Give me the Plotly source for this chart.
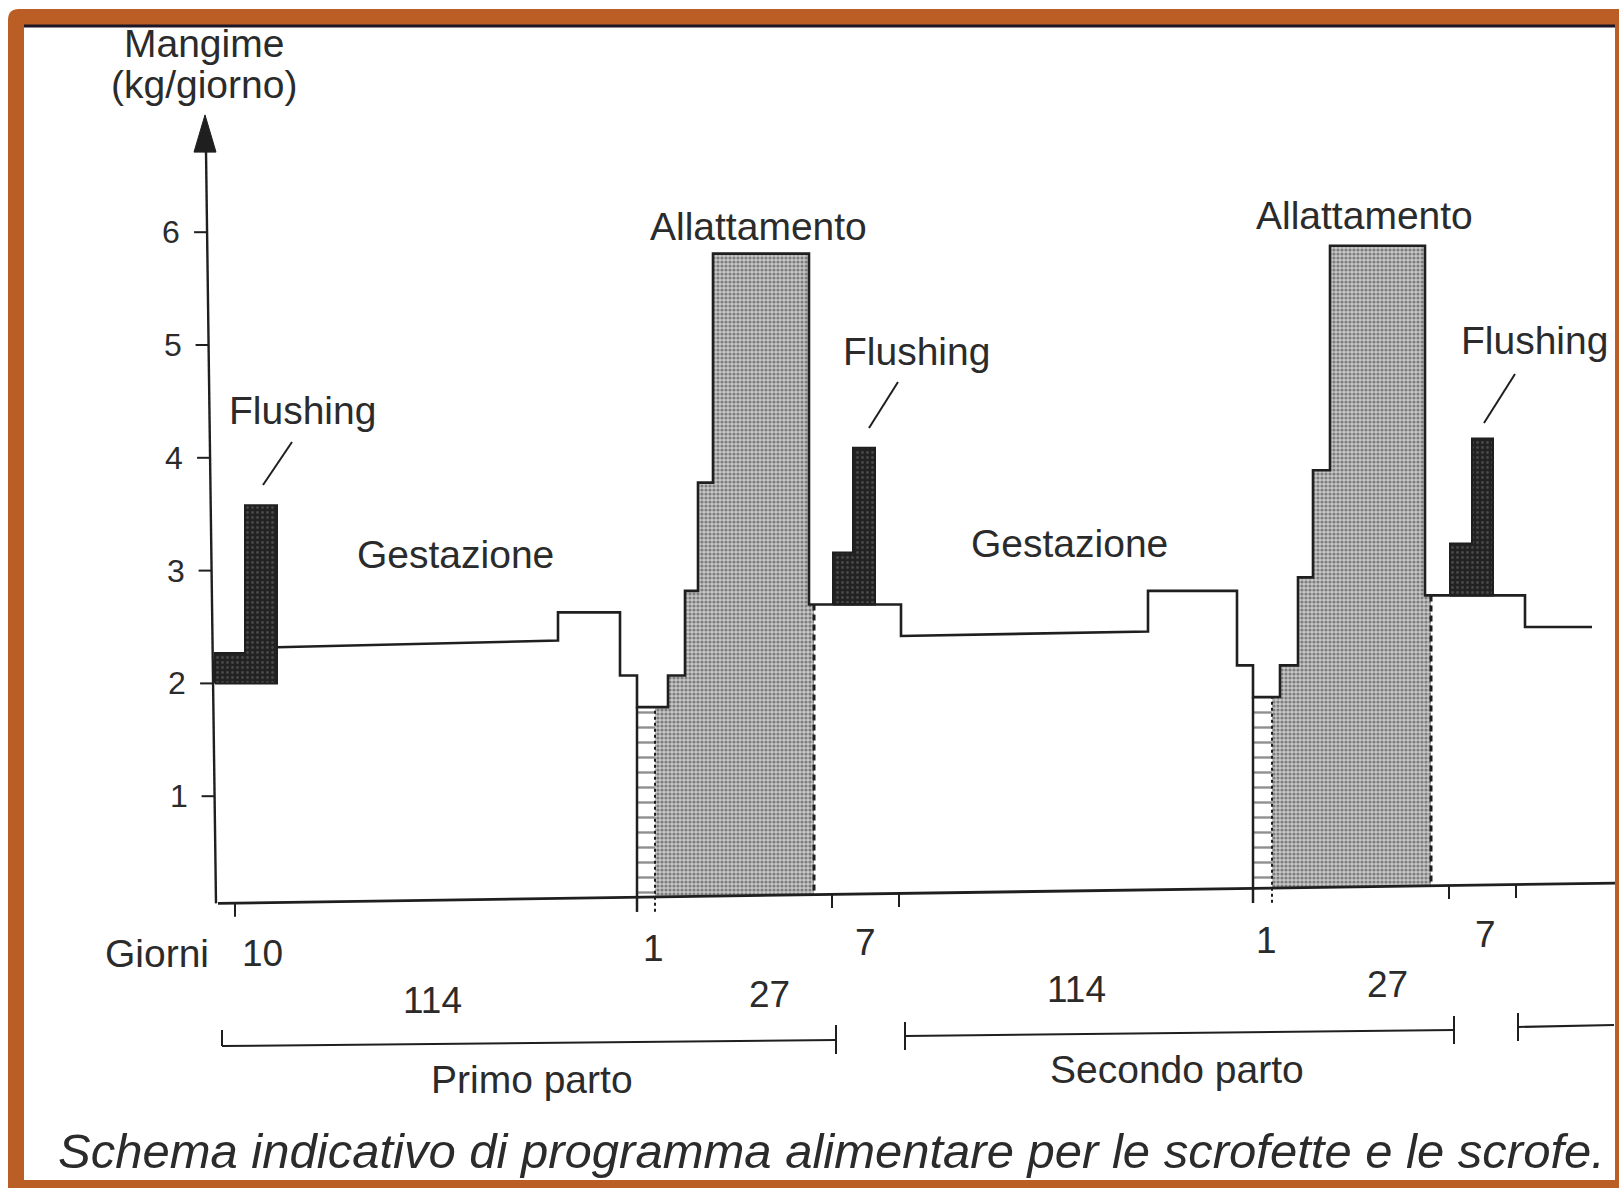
import numpy as np
import plotly.graph_objects as go

W, H = 1619, 1188
KG_PX = 112.8      # page pixels per kg/giorno
ZERO_PX = 909      # page y of 0 kg/giorno

# ---------------- data (schematic time position, feed kg/giorno) ----------------
y_ticks = [1, 2, 3, 4, 5, 6]

# cycle 1: gestation (slightly rising plateau), pre-farrowing steps, lactation steps
gest1_x = [277, 558]
gest1_y = [2.32, 2.38]
lact1_x = [558, 620, 637, 668, 685, 698, 713, 809]
lact1_y = [2.63, 2.07, 1.79, 2.07, 2.82, 3.78, 5.81]
wean1_x = [809, 901]
wean1_y = [2.70]

# cycle 2
gest2_x = [901, 1148]
gest2_y = [2.42, 2.46]
lact2_x = [1148, 1237, 1253, 1280, 1298, 1313, 1330, 1425]
lact2_y = [2.82, 2.16, 1.88, 2.16, 2.94, 3.89, 5.88]
wean2_x = [1425, 1525, 1592]
wean2_y = [2.78, 2.50]

# farrowing day (ladder) and lactation end (dashed edge)
ladder_x = [[637, 655], [1253, 1272]]
lact_end_x = [814, 1431]
lact_steps = [(lact1_x, lact1_y, wean1_y[0]), (lact2_x, lact2_y, wean2_y[0])]

# flushing blocks: x edges (start, step, end), levels
flush_x = [[215, 245, 277], [833, 853, 875], [1450, 1472, 1493]]
flush_base = [2.00, 2.70, 2.78]
flush_low = [2.27, 3.16, 3.24]
flush_high = [3.58, 4.09, 4.17]

# day ticks on the time axis
day_tick_x = [235, 832, 899, 1449, 1516]
day_labels = ["10", "1", "7", "1", "7"]
period_labels = ["114", "27", "114", "27"]
parto_labels = ["Primo parto", "Secondo parto"]

# drawn (slightly tilted) time axis and y axis
base_x = [218, 1616]
base_y = [0.05, 0.23]
yaxis_v = [0.05, 6.72]
yaxis_xpos = [216, 206]

INK = "#1f1f1f"
TXT = "#2b2b2b"
ORANGE = "#BA5E26"
FONT = "Liberation Sans, Arial, Helvetica, sans-serif"


def base_at(x):
    return float(np.interp(x, base_x, base_y))


def axis_at(v):
    return float(np.interp(v, yaxis_v, yaxis_xpos))


def steps(xs, ys):
    px, py = [], []
    for i, v in enumerate(ys):
        px += [xs[i], xs[i + 1]]
        py += [v, v]
    return px, py


fig = go.Figure()

# ---------- lactation stipple areas ----------
for (sx, sy, wl), (lx0, lx1), right in zip(lact_steps, ladder_x, lact_end_x):
    i = int(np.searchsorted(sx, lx1, side="right")) - 1
    px = [lx1, lx1]
    py = [base_at(lx1), sy[i]]
    for j in range(i, len(sy)):
        if j > i:
            px.append(sx[j]); py.append(sy[j])
        px.append(sx[j + 1]); py.append(sy[j])
    px += [sx[-1], right, right, lx1]
    py += [wl, wl, base_at(right), base_at(lx1)]
    fig.add_trace(go.Scatter(
        x=px, y=py, mode="lines", fill="toself", line=dict(width=0),
        fillcolor="#bcbcbc",
        fillpattern=dict(shape=".", bgcolor="#c6c6c6", fgcolor="#333333",
                         size=4, solidity=0.5),
        hoverinfo="skip"))
    # ladder (farrowing day)
    lv = sy[int(np.searchsorted(sx, lx0, side="right")) - 1]
    fig.add_trace(go.Scatter(
        x=[lx0, lx0, lx1, lx1, lx0], y=[base_at(lx0), lv, lv, base_at(lx1), base_at(lx0)],
        mode="lines", fill="toself", line=dict(width=0), fillcolor="white",
        fillpattern=dict(shape="-", bgcolor="white", fgcolor=INK, size=15, solidity=0.16),
        hoverinfo="skip"))
    fig.add_trace(go.Scatter(x=[lx0, lx0], y=[base_at(lx0) - 0.13, lv], mode="lines",
                             line=dict(color=INK, width=2.5), hoverinfo="skip"))
    fig.add_trace(go.Scatter(x=[lx1, lx1], y=[base_at(lx1) - 0.13, lv], mode="lines",
                             line=dict(color=INK, width=2, dash="dot"), hoverinfo="skip"))
    # dashed end of lactation
    fig.add_trace(go.Scatter(x=[right, right], y=[wl, base_at(right)], mode="lines",
                             line=dict(color=INK, width=3, dash="6px,4px"), hoverinfo="skip"))

# ---------- flushing blocks ----------
for (x0, x1, x2), b, lo, hi in zip(flush_x, flush_base, flush_low, flush_high):
    fig.add_trace(go.Scatter(
        x=[x0, x0, x1, x1, x2, x2, x0], y=[b, lo, lo, hi, hi, b, b],
        mode="lines", fill="toself", line=dict(color=INK, width=2),
        fillcolor="#2a2a2a",
        fillpattern=dict(shape=".", bgcolor="#222222", fgcolor="#6e6e6e", size=5, solidity=0.25),
        hoverinfo="skip"))

# ---------- feeding profile outline ----------
ox, oy = list(gest1_x), list(gest1_y)
for xs, ys in [(lact1_x, lact1_y), (wean1_x, wean1_y)]:
    a, b = steps(xs, ys); ox += a; oy += b
ox += gest2_x; oy += gest2_y
for xs, ys in [(lact2_x, lact2_y), (wean2_x, wean2_y)]:
    a, b = steps(xs, ys); ox += a; oy += b
fig.add_trace(go.Scatter(x=ox, y=oy, mode="lines", line=dict(color=INK, width=2.6),
                         hoverinfo="skip"))

# ---------- axes ----------
fig.add_trace(go.Scatter(x=base_x, y=base_y, mode="lines", line=dict(color=INK, width=2.8),
                         hoverinfo="skip"))
fig.add_trace(go.Scatter(x=yaxis_xpos, y=yaxis_v, mode="lines", line=dict(color=INK, width=2.4),
                         hoverinfo="skip"))
ax_top = axis_at(yaxis_v[1])
fig.add_trace(go.Scatter(x=[ax_top - 1, ax_top - 12, ax_top + 10, ax_top - 1],
                         y=[7.04, 6.71, 6.71, 7.04], mode="lines", fill="toself",
                         fillcolor=INK, line=dict(color=INK, width=1), hoverinfo="skip"))
tx, ty = [], []
for v in y_ticks:
    tx += [axis_at(v) - 13, axis_at(v), None]
    ty += [v, v, None]
fig.add_trace(go.Scatter(x=tx, y=ty, mode="lines", line=dict(color=INK, width=2), hoverinfo="skip"))
dx, dy = [], []
for x in day_tick_x:
    dx += [x, x, None]
    dy += [base_at(x), base_at(x) - 0.12, None]
fig.add_trace(go.Scatter(x=dx, y=dy, mode="lines", line=dict(color=INK, width=2), hoverinfo="skip"))

# ---------- page-space decorations (yaxis2 = page pixels) ----------
leaders = [[(292, 442), (263, 485)], [(898, 382), (869, 428)], [(1515, 374), (1484, 423)]]
for (a, b) in leaders:
    fig.add_trace(go.Scatter(x=[a[0], b[0]], y=[a[1], b[1]], yaxis="y2", mode="lines",
                             line=dict(color=INK, width=2), hoverinfo="skip"))
brackets = [((222, 1046), (836, 1040)), ((905, 1036), (1454, 1030)), ((1518, 1027), (1614, 1025))]
bx, by = [], []
for (p, q) in brackets:
    bx += [p[0], q[0], None]
    by += [p[1], q[1], None]
# bracket end ticks
for x, yc, up, dn in [(222, 1046, 16, 0), (836, 1040, 15, 14), (905, 1036, 14, 14),
                      (1454, 1030, 14, 14), (1518, 1027, 14, 14)]:
    bx += [x, x, None]
    by += [yc - up, yc + dn, None]
fig.add_trace(go.Scatter(x=bx, y=by, yaxis="y2", mode="lines", line=dict(color=INK, width=2),
                         hoverinfo="skip"))

ann = []


def label(text, x, y, size=39, yref="y2", **kw):
    ann.append(dict(text=text, x=x, y=y, xref="x", yref=yref, showarrow=False,
                    font=dict(family=FONT, size=size, color=TXT), **kw))


label("Mangime", 204, 43)
label("(kg/giorno)", 204, 84)
for v in y_ticks:
    label(str(v), axis_at(v) - 36, v, size=32, yref="y")
label("Flushing", 302, 410)
label("Flushing", 916, 351)
label("Flushing", 1534, 340)
label("Gestazione", 455, 554)
label("Gestazione", 1069, 543)
label("Allattamento", 758, 226)
label("Allattamento", 1364, 215)
label("Giorni", 157, 953)
for t, (x, y) in zip(day_labels, [(262, 953), (653, 948), (865, 942), (1266, 940), (1485, 934)]):
    label(t, x, y, size=37)
for t, (x, y) in zip(period_labels, [(432, 1000), (769, 994), (1076, 989), (1387, 984)]):
    label(t, x, y, size=37)
label(parto_labels[0], 532, 1079)
label(parto_labels[1], 1177, 1069)
ann.append(dict(text="Schema indicativo di programma alimentare per le scrofette e le scrofe.",
                x=56, y=1151, xref="x", yref="y2", xanchor="left", showarrow=False,
                font=dict(family=FONT, size=49, color=TXT, style="italic")))

shapes = [
    dict(type="path", xref="x", yref="y2", layer="above",
         path=f"M 8,20 Q 8,9 19,9 L {W},9 L {W},{H} L 8,{H} Z "
              f"M 24,25 L 24,1180 L 1615,1180 L 1615,25 Z",
         fillcolor=ORANGE, line=dict(width=0)),
    dict(type="line", xref="x", yref="y2", layer="above", x0=24, x1=1615, y0=26, y1=26,
         line=dict(color="#1c1626", width=3)),
]

fig.update_layout(
    width=W, height=H, margin=dict(l=0, r=0, t=0, b=0),
    paper_bgcolor="white", plot_bgcolor="white", showlegend=False,
    xaxis=dict(range=[0, W], visible=False, fixedrange=True),
    yaxis=dict(range=[(ZERO_PX - H) / KG_PX, ZERO_PX / KG_PX], visible=False, fixedrange=True),
    yaxis2=dict(range=[H, 0], overlaying="y", visible=False, fixedrange=True),
    annotations=ann, shapes=shapes,
)

fig.write_html("out.html", config={"displayModeBar": False},
               post_script="document.body.style.margin='0';document.body.style.overflow='hidden';")
